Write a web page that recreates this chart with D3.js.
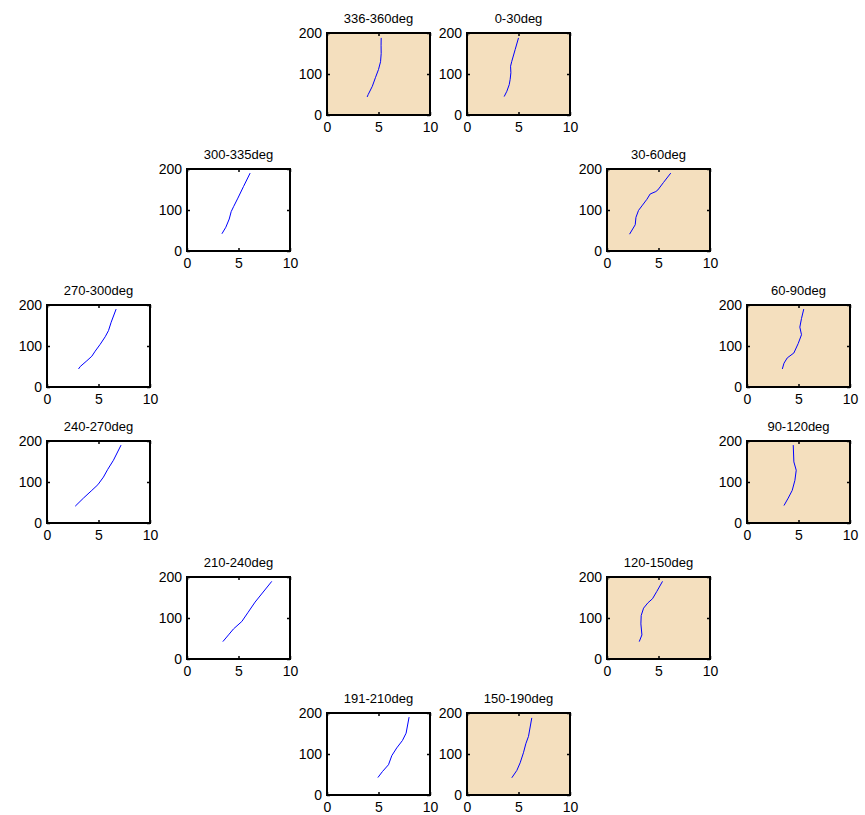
<!DOCTYPE html>
<html>
<head>
<meta charset="utf-8">
<script src="https://cdn.jsdelivr.net/npm/d3@7"></script>
<style>
  html, body { margin: 0; padding: 0; background: #fff; }
  svg { display: block; }
  text { font-family: "Liberation Sans", Arial, sans-serif; fill: #000; }
</style>
</head>
<body>
<svg id="chart" width="865" height="815"></svg>
<script>
// Sector profiles: each entry is [x, depth]
const s336_360 = [[3.9,44],[4.0,50],[4.4,70],[4.7,91],[5.0,111],[5.2,130],[5.26,150],[5.25,170],[5.26,188]];
const s0_30    = [[3.61,45],[3.87,58],[4.1,74],[4.19,87],[4.26,103],[4.23,119],[4.35,131],[4.68,160],[5.0,188]];
const s300_335 = [[3.39,42],[3.77,58],[4.1,78],[4.29,96],[4.52,108],[4.94,129],[5.48,157],[6.13,190]];
const s30_60   = [[2.19,41],[2.74,64],[2.81,82],[3.06,99],[3.39,110],[3.87,126],[4.19,139],[4.74,145],[4.94,149],[5.48,167],[6.19,190]];
const s270_300 = [[3.06,44],[3.23,50],[3.87,64],[4.35,75],[4.68,87.5],[5.16,104],[5.65,122.5],[5.97,137.5],[6.23,158],[6.71,190]];
const s60_90   = [[3.43,44],[3.59,58],[3.91,71],[4.55,83],[4.97,106],[5.29,127.5],[5.13,146],[5.29,167],[5.51,190]];
const s240_270 = [[2.74,41],[3.55,61],[4.35,79.5],[4.94,93.4],[5.48,112],[5.9,131],[6.45,153],[7.19,190]];
const s90_120  = [[3.59,42.6],[4.0,60.7],[4.39,79.5],[4.65,104],[4.78,128.7],[4.55,149],[4.49,190]];
const s210_240 = [[3.48,42.4],[4.03,58.8],[4.52,73.5],[5.32,91.4],[5.9,112.7],[6.61,138.8],[8.23,189.4]];
const s120_150 = [[3.13,42.4],[3.39,58.8],[3.29,85.7],[3.32,106],[3.55,124],[3.97,137],[4.42,147],[4.84,165],[5.39,189.4]];
const s191_210 = [[4.94,42.6],[5.39,57.4],[5.97,73.8],[6.29,95.9],[6.77,114.8],[7.32,132.8],[7.68,150.8],[7.97,190]];
const s150_190 = [[4.35,42],[4.84,60],[5.16,78.5],[5.48,103],[5.71,125],[5.97,143],[6.29,188]];

// Panel titles, grid slots (row, column) and whether the sector is shaded
const titles  = ["336-360deg","0-30deg","300-335deg","30-60deg","270-300deg","60-90deg",
                 "240-270deg","90-120deg","210-240deg","120-150deg","191-210deg","150-190deg"];
const rows    = [0,0,1,1,2,2,3,3,4,4,5,5];
const cols    = [2,3,1,4,0,5,0,5,1,4,2,3];
const shaded  = [true,true,false,true,false,true,false,true,false,true,false,true];
const series  = [s336_360,s0_30,s300_335,s30_60,s270_300,s60_90,s240_270,s90_120,s210_240,s120_150,s191_210,s150_190];

const xTicks = [0,5,10];
const yTicks = [0,100,200];
const xDomain = [0,10];
const yDomain = [0,200];

const svg = d3.select("#chart");
const W = 103, H = 82;
const left0 = 47, top0 = 33, dx = 140, dy = 136;

const x = d3.scaleLinear().domain(xDomain).range([0, W]);
const y = d3.scaleLinear().domain(yDomain).range([H, 0]);
const line = d3.line().x(d => x(d[0])).y(d => y(d[1]));

titles.forEach((t, i) => {
  const g = svg.append("g")
    .attr("transform", `translate(${left0 + cols[i]*dx},${top0 + rows[i]*dy})`);

  g.append("rect")
    .attr("width", W).attr("height", H)
    .attr("fill", shaded[i] ? "#F4DFBE" : "#fff");

  g.append("path")
    .datum(series[i])
    .attr("d", line)
    .attr("fill", "none")
    .attr("stroke", "#0000ff")
    .attr("stroke-width", 1);

  // inward ticks on all four sides
  const tl = 3;
  const bottom = d3.axisBottom(x).tickValues(xTicks).tickSizeInner(-tl).tickSizeOuter(0).tickPadding(7.5);
  const leftAx = d3.axisLeft(y).tickValues(yTicks).tickSizeInner(-tl).tickSizeOuter(0).tickPadding(5);
  const topAx = d3.axisTop(x).tickValues(xTicks).tickSizeInner(-tl).tickSizeOuter(0).tickFormat("");
  const rightAx = d3.axisRight(y).tickValues(yTicks).tickSizeInner(-tl).tickSizeOuter(0).tickFormat("");

  const gb = g.append("g").attr("transform", `translate(0,${H})`).call(bottom);
  const gl = g.append("g").call(leftAx);
  const gt = g.append("g").call(topAx);
  const gr = g.append("g").attr("transform", `translate(${W},0)`).call(rightAx);
  [gb, gl, gt, gr].forEach(a => {
    a.select(".domain").remove();
    a.selectAll(".tick line").attr("stroke", "#000").attr("stroke-width", 1.5);
    a.selectAll(".tick text").attr("font-size", 14).attr("font-family", "Liberation Sans, Arial, sans-serif").attr("fill", "#000");
  });

  g.append("rect")
    .attr("width", W).attr("height", H)
    .attr("fill", "none")
    .attr("stroke", "#000")
    .attr("stroke-width", 2);

  g.append("text")
    .attr("x", W/2).attr("y", -10)
    .attr("text-anchor", "middle")
    .attr("font-size", 13)
    .text(t);
});
</script>
</body>
</html>
